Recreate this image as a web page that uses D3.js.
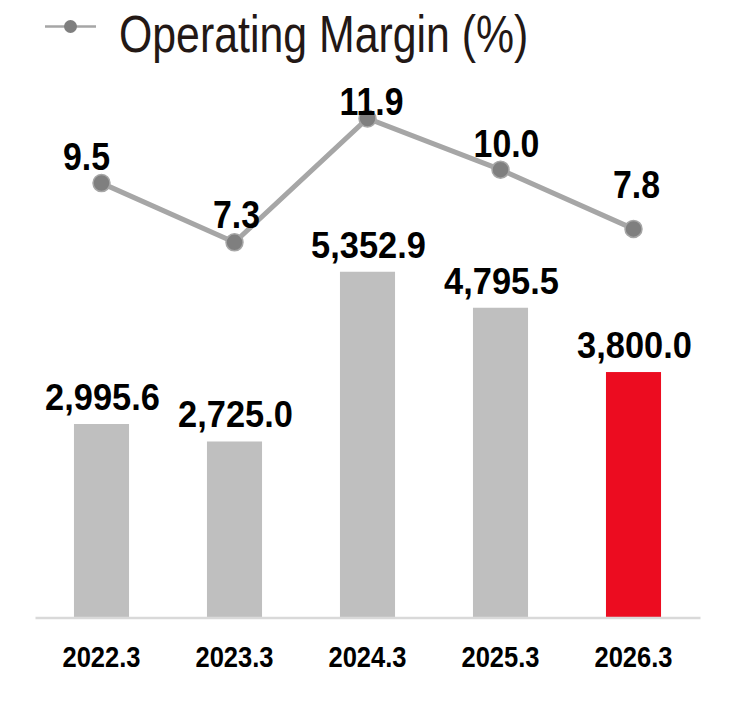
<!DOCTYPE html>
<html>
<head>
<meta charset="utf-8">
<script src="https://cdn.jsdelivr.net/npm/d3@7"></script>
<style>
  body { margin: 0; background: #fff; }
  svg { display: block; }
  .num { font-family: "Liberation Sans", Arial, sans-serif; font-weight: bold; fill: #000; }
</style>
</head>
<body>
<script>
/* data */
const years = ['2022.3', '2023.3', '2024.3', '2025.3', '2026.3'];
const sales = [2995.6, 2725.0, 5352.9, 4795.5, 3800.0];
const margin = [9.5, 7.3, 11.9, 10.0, 7.8];
const legendLabel = 'Operating Margin (%)';

/* label nudges (px) so the margin labels sit like the original */
const marginDx = [-15, 2, 4, 6, 3];
const marginDy = [-13, -14, -3, -13, -31];

const width = 744, height = 702;
const squeeze = 0.91; // no narrow font installed, so condense horizontally

const svg = d3.select('body').append('svg')
  .attr('width', width)
  .attr('height', height);

/* scales */
const x = d3.scaleBand()
  .domain(years)
  .range([35, 700])
  .paddingInner(0.586)
  .paddingOuter(0.293);

const yBar = d3.scaleLinear()
  .domain([0, 9560])
  .range([617.5, 0]);

const yLine = d3.scaleLinear()
  .domain([0, 16])
  .range([439, 8]);

const cx = d => x(d) + x.bandwidth() / 2;
const at = (tx, ty, s) => `translate(${tx},${ty}) scale(${s},1)`;

/* bars */
svg.append('g')
  .selectAll('rect')
  .data(sales)
  .enter().append('rect')
  .attr('x', (d, i) => x(years[i]))
  .attr('width', x.bandwidth())
  .attr('y', d => yBar(d))
  .attr('height', d => yBar(0) - yBar(d))
  .attr('fill', (d, i) => i === sales.length - 1 ? '#ec0c20' : '#bfbfbf');

/* bottom axis (line + year labels) */
const xAxis = d3.axisBottom(x).tickSize(0);
const axisG = svg.append('g')
  .attr('transform', `translate(0, ${yBar(0)})`)
  .call(xAxis);

axisG.select('.domain')
  .attr('stroke', '#d9d9d9')
  .attr('stroke-width', 2.5);

axisG.selectAll('text')
  .attr('class', 'num')
  .attr('font-size', 29)
  .attr('dy', 0)
  .attr('y', 0)
  .attr('transform', at(0, 49.5, 0.88));

/* bar value labels */
svg.append('g')
  .selectAll('text')
  .data(sales)
  .enter().append('text')
  .attr('class', 'num')
  .attr('font-size', 37)
  .attr('text-anchor', 'middle')
  .attr('transform', (d, i) => at(cx(years[i]) + 1, yBar(d) - 14, 0.93))
  .text(d => d3.format(',.1f')(d));

/* margin line */
const line = d3.line()
  .x((d, i) => cx(years[i]))
  .y(d => yLine(d));

svg.append('path')
  .datum(margin)
  .attr('d', line)
  .attr('fill', 'none')
  .attr('stroke', '#a6a6a6')
  .attr('stroke-width', 5);

svg.append('g')
  .selectAll('circle')
  .data(margin)
  .enter().append('circle')
  .attr('cx', (d, i) => cx(years[i]))
  .attr('cy', d => yLine(d))
  .attr('r', 8.5)
  .attr('fill', '#7f7f7f')
  .attr('stroke', '#a6a6a6')
  .attr('stroke-width', 1.5);

svg.append('g')
  .selectAll('text')
  .data(margin)
  .enter().append('text')
  .attr('class', 'num')
  .attr('font-size', 38)
  .attr('text-anchor', 'middle')
  .attr('transform', (d, i) => at(cx(years[i]) + marginDx[i], yLine(d) + marginDy[i], 0.89))
  .text(d => d3.format('.1f')(d));

/* legend */
const legend = svg.append('g');

legend.append('line')
  .attr('x1', 45).attr('x2', 96)
  .attr('y1', 26.5).attr('y2', 26.5)
  .attr('stroke', '#a6a6a6')
  .attr('stroke-width', 2.5);

legend.append('circle')
  .attr('cx', 70.5).attr('cy', 26.5)
  .attr('r', 6.5)
  .attr('fill', '#7f7f7f');

legend.append('text')
  .attr('transform', at(119, 52, 0.84))
  .attr('font-family', '"Liberation Sans", Arial, sans-serif')
  .attr('font-size', 51)
  .attr('fill', '#231815')
  .text(legendLabel);
</script>
</body>
</html>
